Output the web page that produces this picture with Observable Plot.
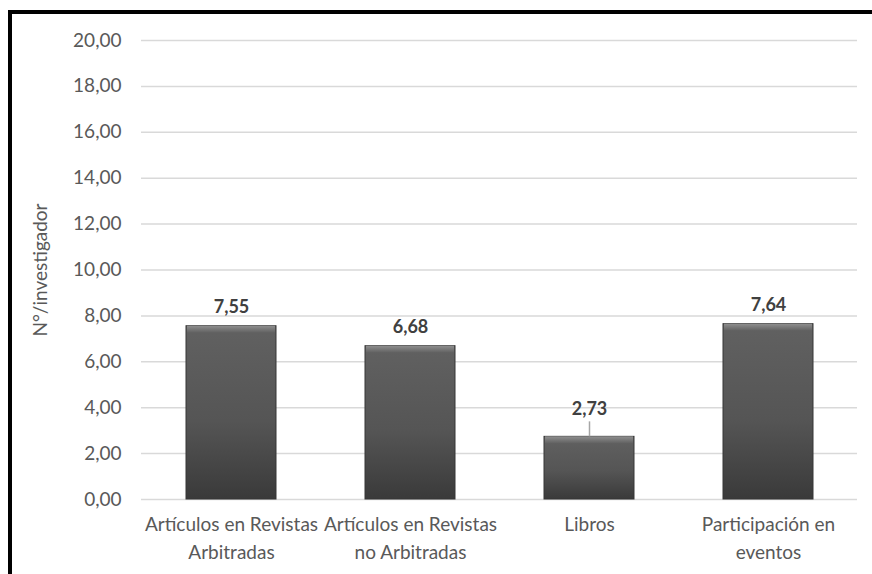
<!DOCTYPE html>
<html>
<head>
<meta charset="utf-8">
<script src="https://cdn.jsdelivr.net/npm/d3@7"></script>
<script src="https://cdn.jsdelivr.net/npm/@observablehq/plot@0.6"></script>
<style>
  html, body { margin: 0; padding: 0; background: #fff; }
  #wrap { position: relative; width: 872px; height: 574px; overflow: hidden; }
  #frame { position: absolute; left: 8px; top: 10px; width: 900px; height: 600px;
           border-left: 4px solid #000; border-top: 4px solid #000; pointer-events: none; }
  #chart { position: absolute; left: 0; top: 0; }
</style>
</head>
<body>
<div id="wrap"><div id="chart"></div><div id="frame"></div></div>
<script>
const categories = [
  "Artículos en Revistas\nArbitradas",
  "Artículos en Revistas\nno Arbitradas",
  "Libros",
  "Participación en\neventos"
];
const values = [7.55, 6.68, 2.73, 7.64];
const yTicks = [0, 2, 4, 6, 8, 10, 12, 14, 16, 18, 20];
const yTitle = "N°/investigador";
const movedLabels = ["Libros"];

const data = categories.map((c, i) => ({cat: c, value: values[i]}));
const fmt = v => v.toFixed(2).replace(".", ",");
const FONT = "Lato, 'Open Sans', sans-serif";

const chart = Plot.plot({
  width: 872,
  height: 574,
  marginLeft: 141,
  marginRight: 15,
  marginTop: 40,
  marginBottom: 75,
  style: {fontFamily: FONT, fontSize: "19px", color: "#595959", background: "transparent"},
  x: {domain: categories, paddingInner: 0.5, paddingOuter: 0.25, label: null},
  y: {domain: [0, 20], label: null},
  marks: [
    Plot.gridY(yTicks, {stroke: "#d9d9d9", strokeOpacity: 1, strokeWidth: 1.5}),
    Plot.axisY(yTicks, {tickSize: 0, tickPadding: 20, tickFormat: fmt, fill: "#595959", fontSize: 19,
      label: yTitle, labelAnchor: "center", labelArrow: "none", labelOffset: 108}),
    Plot.axisX({tickSize: 0, tickPadding: 12, fill: "#595959", fontSize: 19, lineHeight: 1.45,
      label: null, textAnchor: "middle"}),
    Plot.barY(data, {x: "cat", y: "value", fill: "url(#barGrad)", stroke: "#363636", strokeWidth: 1}),
    Plot.barY(data, {x: "cat", y1: "value", y2: "value", insetBottom: -7, insetLeft: 1, insetRight: 1,
      fill: "url(#bevelGrad)"}),
    Plot.ruleX(data.filter(d => movedLabels.includes(d.cat)),
      {x: "cat", y1: "value", y2: "value", insetTop: -15, stroke: "#a6a6a6", strokeWidth: 1.5}),
    Plot.text(data, {x: "cat", y: "value", text: d => fmt(d.value),
      fill: "#404040", fontWeight: "bold", fontSize: 18,
      lineAnchor: "bottom", dy: -13,
      filter: d => !movedLabels.includes(d.cat)}),
    Plot.text(data, {x: "cat", y: "value", text: d => fmt(d.value),
      fill: "#404040", fontWeight: "bold", fontSize: 18,
      lineAnchor: "bottom", dy: -22,
      filter: d => movedLabels.includes(d.cat)})
  ]
});

const svg = d3.select(chart);
const defs = svg.insert("defs", ":first-child");
const g1 = defs.append("linearGradient").attr("id", "barGrad").attr("x1", 0).attr("y1", 0).attr("x2", 0).attr("y2", 1);
g1.append("stop").attr("offset", "0%").attr("stop-color", "#616161");
g1.append("stop").attr("offset", "55%").attr("stop-color", "#555555");
g1.append("stop").attr("offset", "100%").attr("stop-color", "#3a3a3a");
const g2 = defs.append("linearGradient").attr("id", "bevelGrad").attr("x1", 0).attr("y1", 0).attr("x2", 0).attr("y2", 1);
g2.append("stop").attr("offset", "0%").attr("stop-color", "#8f8f8f");
g2.append("stop").attr("offset", "100%").attr("stop-color", "#616161");

document.getElementById("chart").appendChild(chart);
</script>
</body>
</html>
